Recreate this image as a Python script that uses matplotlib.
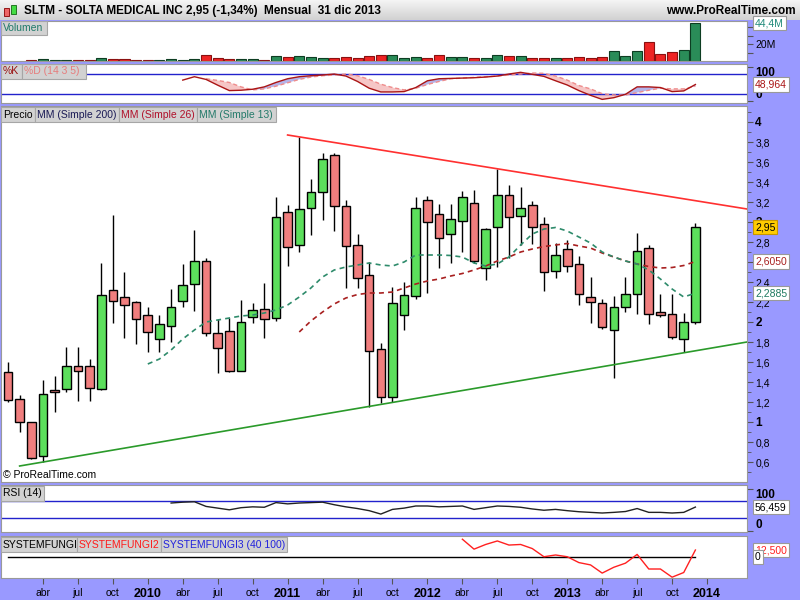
import numpy as np
import matplotlib
matplotlib.use("Agg")
import matplotlib.pyplot as plt
from matplotlib.patches import Rectangle
from matplotlib.colors import LinearSegmentedColormap
from matplotlib.transforms import blended_transform_factory

plt.rcParams['font.family'] = ['Liberation Sans', 'DejaVu Sans']
nan = np.nan

# --- datos mensuales SLTM, ene 2009 .. dic 2013 (indice 0..59) ---
opens = [1.50, 1.23, 1.00, 0.66, 1.32, 1.33, 1.56, 1.56, 1.33, 2.32, 2.25, 2.20,
         2.07, 1.83, 1.96, 2.21, 2.38, 2.61, 1.89, 1.91, 1.51, 2.05, 2.13, 2.04,
         3.10, 2.77, 3.14, 3.30, 3.67, 3.16, 2.77, 2.47, 1.73, 1.25, 2.07, 2.26,
         3.22, 3.08, 2.88, 3.01, 3.19, 2.54, 2.95, 3.27, 3.06, 3.17, 2.98, 2.51,
         2.73, 2.58, 2.25, 2.19, 1.92, 2.15, 2.28, 2.74, 2.10, 2.08, 1.83, 2.00]
highs = [1.60, 1.27, 1.00, 1.42, 1.46, 1.75, 1.75, 1.63, 2.59, 3.07, 2.50, 2.21,
         2.15, 2.07, 2.33, 2.58, 2.92, 2.64, 2.03, 2.04, 2.22, 2.19, 2.39, 3.25,
         3.17, 3.85, 3.43, 3.69, 3.69, 3.22, 2.88, 2.60, 1.79, 2.35, 2.40, 3.25,
         3.26, 3.18, 3.18, 3.31, 3.32, 2.94, 3.53, 3.37, 3.35, 3.21, 3.05, 2.79,
         2.82, 2.66, 2.45, 2.23, 2.26, 2.45, 2.89, 2.77, 2.28, 2.28, 2.09, 2.99]
lows = [1.20, 0.90, 0.63, 0.60, 1.10, 1.30, 1.21, 1.21, 1.32, 1.99, 1.84, 1.78,
        1.70, 1.70, 1.80, 2.15, 2.11, 1.86, 1.49, 1.50, 1.51, 1.99, 1.84, 2.01,
        2.56, 2.70, 2.87, 3.02, 2.91, 2.34, 2.34, 1.15, 1.19, 1.20, 1.92, 2.23,
        2.29, 2.54, 2.59, 2.70, 2.59, 2.42, 2.55, 2.64, 2.77, 2.78, 2.31, 2.44,
        2.50, 2.17, 1.99, 1.93, 1.44, 2.10, 2.08, 1.98, 2.05, 1.83, 1.70, 1.98]
closes = [1.22, 1.00, 0.64, 1.28, 1.30, 1.56, 1.51, 1.34, 2.27, 2.21, 2.17, 2.03,
          1.90, 1.98, 2.15, 2.37, 2.61, 1.89, 1.74, 1.51, 2.00, 2.12, 2.03, 3.05,
          2.75, 3.13, 3.30, 3.63, 3.16, 2.76, 2.44, 1.71, 1.25, 2.19, 2.27, 3.14,
          3.00, 2.84, 3.03, 3.25, 2.61, 2.93, 3.27, 3.05, 3.14, 2.95, 2.50, 2.67,
          2.56, 2.28, 2.20, 1.95, 2.15, 2.28, 2.71, 2.08, 2.07, 1.85, 2.00, 2.95]
# volumen en millones
volume = [nan, nan, 1.2, 2.4, 1.2, 1.2, 1.2, 1.2, 3.5, 2.4, 2.4, 1.2,
          1.2, 1.2, 2.4, 1.2, 2.4, 7.1, 3.5, 2.4, 2.4, 2.4, 1.2, 5.9,
          4.7, 5.9, 4.7, 3.5, 3.5, 4.7, 3.5, 5.9, 7.1, 7.1, 3.5, 4.7,
          3.5, 7.1, 4.7, 4.7, 3.5, 3.5, 7.1, 5.9, 5.9, 3.5, 3.5, 3.5,
          3.5, 4.7, 3.5, 4.7, 11.8, 5.9, 11.8, 22.4, 8.2, 10.6, 13.0, 44.4]

# medias moviles
mm13 = [nan] * 12 + [1.58, 1.63, 1.72, 1.83, 1.92, 2.00, 2.02, 2.04, 2.06, 2.07, 2.09, 2.12,
                     2.17, 2.25, 2.34, 2.45, 2.52, 2.55, 2.57, 2.59, 2.57, 2.56, 2.60, 2.67,
                     2.67, 2.67, 2.665, 2.65, 2.59, 2.56, 2.58, 2.65, 2.77, 2.88, 2.93, 2.945,
                     2.91, 2.85, 2.79, 2.70, 2.65, 2.61, 2.58, 2.52, 2.43, 2.33, 2.25, 2.2885]
mm26 = [nan] * 25 + [1.90, 2.01, 2.10, 2.18, 2.24, 2.275, 2.29, 2.29, 2.30, 2.34, 2.38, 2.41,
                     2.43, 2.46, 2.485, 2.52, 2.56, 2.61, 2.65, 2.70, 2.73, 2.755, 2.77, 2.785,
                     2.76, 2.74, 2.69, 2.65, 2.61, 2.58, 2.555, 2.54, 2.545, 2.565, 2.605]

# estocastico %K / %D (14 3 5)
stoch_k = [nan] * 15 + [62, 72, 64, 47, 31, 32, 35, 42, 55, 66, 72, 75, 77, 80, 74, 58, 38, 27, 27, 28,
                        40, 60, 66, 67, 68, 69, 71, 74, 80, 85, 79, 73, 60, 47.5, 31, 17, 5, 10, 20, 42,
                        42, 40, 28, 30, 48.964]
stoch_d = [nan] * 17 + [66, 61, 55, 42, 33, 36, 44, 54, 64, 71, 75, 77, 80, 75, 64, 50, 40, 33, 38, 49,
                        58, 66, 68, 70, 72, 74, 77, 80, 83, 82, 74, 62, 46, 36, 22, 18, 18, 25, 32, 38,
                        36, 36, 44]
rsi = [nan] * 14 + [66, 68, 69, 58, 54, 50, 55, 57, 56, 67, 64, 66, 67, 68, 62, 57, 53, 48, 40, 51,
                    54, 59, 59, 57, 58, 59, 51, 55, 59, 58, 56, 52, 49, 51, 48, 45.5, 44, 42.5, 44, 46,
                    53, 44, 44, 42.5, 44, 56.459]
fungi2 = [nan] * 39 + [31, 14, 22, 28, 21, 22, 15, 1, 4, 1, -9, -13, -27, -17, -10, 5, -20, -20, -34, -26, 12.5]

# lineas de tendencia (indice de mes, precio)
res_x, res_y = [24, 63.43], [3.87, 3.13]
sup_x, sup_y = [1, 63.43], [0.56, 1.80]

xtick_pos = list(range(3, 61, 3))
xtick_labels = ['abr', 'jul', 'oct', '2010', 'abr', 'jul', 'oct', '2011', 'abr', 'jul', 'oct', '2012',
                'abr', 'jul', 'oct', '2013', 'abr', 'jul', 'oct', '2014']
price_ticks = [0.6, 0.8, 1.0, 1.2, 1.4, 1.6, 1.8, 2.0, 2.2, 2.4, 2.6, 2.8, 3.0, 3.2, 3.4, 3.6, 3.8, 4.0]

W, H = 800, 600
LAV = '#9999ff'
XMIN, XMAX = -0.6, 63.43
x = np.arange(len(closes))
o, h, l, c = map(np.array, (opens, highs, lows, closes))

fig = plt.figure(figsize=(8, 6), dpi=100, facecolor=LAV)


def px_axes(x0, y0, x1, y1):
    ax = fig.add_axes([x0 / W, 1 - y1 / H, (x1 - x0) / W, (y1 - y0) / H])
    ax.set_facecolor('white')
    for s in ax.spines.values():
        s.set_color('#999999')
    ax.set_xlim(XMIN, XMAX)
    ax.tick_params(axis='x', bottom=False, labelbottom=False)
    ax.yaxis.tick_right()
    ax.tick_params(axis='y', direction='out', length=4, width=0.8, color='#555555', pad=2, labelsize=7.5)
    return ax


def vtag(ax, y, text, color, fc='white', ec='#999999'):
    tr = blended_transform_factory(ax.transAxes, ax.transData)
    ax.text((755 - 1) / 746, y, text, transform=tr, color=color, fontsize=7.5, va='center', ha='left',
            bbox=dict(boxstyle='square,pad=0.2', fc=fc, ec=ec, lw=0.8), clip_on=False, zorder=10)


def tag(x0, x1, y0, y1, text, color):
    fig.add_artist(Rectangle((x0 / W, 1 - y1 / H), (x1 - x0) / W, (y1 - y0) / H, transform=fig.transFigure,
                             fc='#d2d2d2', ec='#a6a6a6', lw=0.8, zorder=5))
    fig.text((x0 + 2) / W, 1 - (y0 + y1) / 2 / H, text, color=color, va='center', ha='left',
             fontsize=7.5, zorder=6)


# cabecera
axh = fig.add_axes([0, 1 - 20 / H, 1, 20 / H])
grad = LinearSegmentedColormap.from_list('g', ['#f4f4f4', '#d2d2d2'])
axh.imshow(np.linspace(0, 1, 20).reshape(-1, 1), aspect='auto', cmap=grad, extent=[0, 1, 0, 1])
axh.set_axis_off()
fig.add_artist(Rectangle((4 / W, 1 - 16 / H), 5 / W, 8 / H, transform=fig.transFigure,
                         fc='#ee6666', ec='#880000', lw=0.6))
fig.add_artist(Rectangle((11 / W, 1 - 14 / H), 5 / W, 9 / H, transform=fig.transFigure,
                         fc='#44dd44', ec='#116611', lw=0.6))
fig.text(24 / W, 1 - 11 / H, 'SLTM - SOLTA MEDICAL INC', fontsize=8.5, fontweight='bold', va='center')
fig.text(186 / W, 1 - 11 / H, '2,95 (-1,34%)', fontsize=8.5, fontweight='bold', va='center')
fig.text(264 / W, 1 - 11 / H, 'Mensual  31 dic 2013', fontsize=8.5, fontweight='bold', va='center')
fig.text(796 / W, 1 - 11 / H, 'www.ProRealTime.com', fontsize=8.5, fontweight='bold', va='center', ha='right')

# volumen
axv = px_axes(1, 21, 747, 61)
up_vs_prev = np.r_[True, c[1:] >= c[:-1]]
vcol = np.where(up_vs_prev, '#2a8c58', '#ee2424')
vedge = np.where(up_vs_prev, '#0d3d22', '#8a1010')
axv.bar(x, volume, width=0.86, color=vcol, edgecolor=vedge, lw=0.8)
axv.set_ylim(0, 47.1)
axv.set_yticks([10, 20, 30, 40])
axv.set_yticklabels(['', '20M', '', ''])
vtag(axv, 44.4, '44,4M', '#1f8a7a')

# estocastico
axs = px_axes(1, 64, 747, 103)
sk, sd = np.array(stoch_k), np.array(stoch_d)
axs.axhline(80, color='#2222cc', lw=1)
axs.axhline(20, color='#2222cc', lw=1)
m = ~np.isnan(sd)
axs.fill_between(x[m], sk[m], sd[m], where=sk[m] >= sd[m], interpolate=True, color='#b4b4ea', lw=0)
axs.fill_between(x[m], sk[m], sd[m], where=sk[m] < sd[m], interpolate=True, color='#f6c6c6', lw=0)
axs.plot(x, sd, color='#ee8c8c', lw=1, dashes=(3, 2))
axs.plot(x, sk, color='#aa1515', lw=1)
axs.set_ylim(-5.7, 109.6)
axs.set_yticks([0, 100])
axs.set_yticklabels(['0', '100'], fontweight='bold', fontsize=8.5)
axs.get_yticklabels()[0].set_va('bottom')
axs.get_yticklabels()[1].set_va('top')
vtag(axs, stoch_k[-1], '48,964', '#aa1515')

# precio
axp = px_axes(1, 106, 747, 482)
up = c >= o
axp.vlines(x, l, h, color='black', lw=1, zorder=2)
axp.bar(x, np.abs(c - o), bottom=np.minimum(o, c), width=0.74,
        color=np.where(up, '#5cdf5c', '#f07e7e'), edgecolor='black', lw=1, zorder=3)
axp.plot(x, mm26, color='#a82020', lw=1.2, dashes=(3, 2.5), zorder=4)
axp.plot(x, mm13, color='#2e8b6b', lw=1.2, dashes=(3, 2.5), zorder=4)
axp.plot(res_x, res_y, color='#ff3030', lw=1.2, zorder=4)
axp.plot(sup_x, sup_y, color='#2a9a2a', lw=1.2, zorder=4)
axp.set_ylim(0.40, 4.16)
axp.set_yticks(price_ticks)
axp.set_yticks(np.arange(0.5, 4.15, 0.2), minor=True)
axp.tick_params(axis='y', which='minor', direction='out', length=3, color='#555555')
labs = []
for t in price_ticks:
    lab = ('%g' % t).replace('.', ',')
    # la etiqueta 2,6 queda tapada por el recuadro de la MM26
    labs.append('' if abs(t - 2.6) < 1e-9 else lab)
axp.set_yticklabels(labs)
for t, lab in zip(price_ticks, axp.get_yticklabels()):
    if abs(t - round(t)) < 1e-9:
        lab.set_fontweight('bold')
        lab.set_fontsize(8.5)
vtag(axp, closes[-1], '2,95', 'black', fc='#ffcc00', ec='#c89600')
vtag(axp, mm26[-1], '2,6050', '#a82020')
vtag(axp, mm13[-1], '2,2885', '#1f7a60')
axp.text(0.003, 0.018, '© ProRealTime.com', transform=axp.transAxes, fontsize=7.5, va='center')

# RSI
axr = px_axes(1, 485, 747, 532)
axr.axhline(70, color='#2222cc', lw=1)
axr.axhline(30, color='#2222cc', lw=1)
axr.plot(x, rsi, color='#222222', lw=1)
axr.set_ylim(-2.2, 108.4)
axr.set_yticks([0, 100])
axr.set_yticklabels(['0', '100'], fontweight='bold', fontsize=8.5)
axr.get_yticklabels()[0].set_va('bottom')
axr.get_yticklabels()[1].set_va('top')
vtag(axr, rsi[-1], '56,459', 'black')

# SYSTEMFUNGI
axf = px_axes(1, 536, 747, 578)
axf.plot([0, len(closes) - 1], [0, 0], color='black', lw=1)
axf.plot(x, fungi2, color='#ff2020', lw=1)
axf.set_ylim(-35.4, 36.5)
axf.set_yticks([])
vtag(axf, fungi2[-1], '12,500', '#ff2020')
vtag(axf, 0, '0', 'black')
axf.set_xticks(xtick_pos)
axf.set_xticklabels(xtick_labels)
axf.tick_params(axis='x', bottom=True, labelbottom=True, direction='out', length=4,
                color='#555555', labelsize=7.5, pad=3)
for lab in axf.get_xticklabels():
    if lab.get_text().isdigit():
        lab.set_fontweight('bold')
        lab.set_fontsize(9)

# etiquetas de paneles
tag(1, 47, 21, 35, 'Volumen', '#1f7a6a')
tag(1, 22, 64, 79, '%K', '#991010')
tag(22, 86, 64, 79, '%D (14 3 5)', '#e77c7c')
tag(1, 35, 107, 122, 'Precio', 'black')
tag(35, 119, 107, 122, 'MM (Simple 200)', '#1a1a55')
tag(119, 197, 107, 122, 'MM (Simple 26)', '#b0102a')
tag(197, 276, 107, 122, 'MM (Simple 13)', '#237a6a')
tag(1, 44, 486, 501, 'RSI (14)', 'black')
tag(1, 77, 537, 552, 'SYSTEMFUNGI', 'black')
tag(77, 161, 537, 552, 'SYSTEMFUNGI2', '#ff1a1a')
tag(161, 287, 537, 552, 'SYSTEMFUNGI3 (40 100)', '#2222dd')

fig.savefig('out.png', dpi=100, facecolor=LAV)
